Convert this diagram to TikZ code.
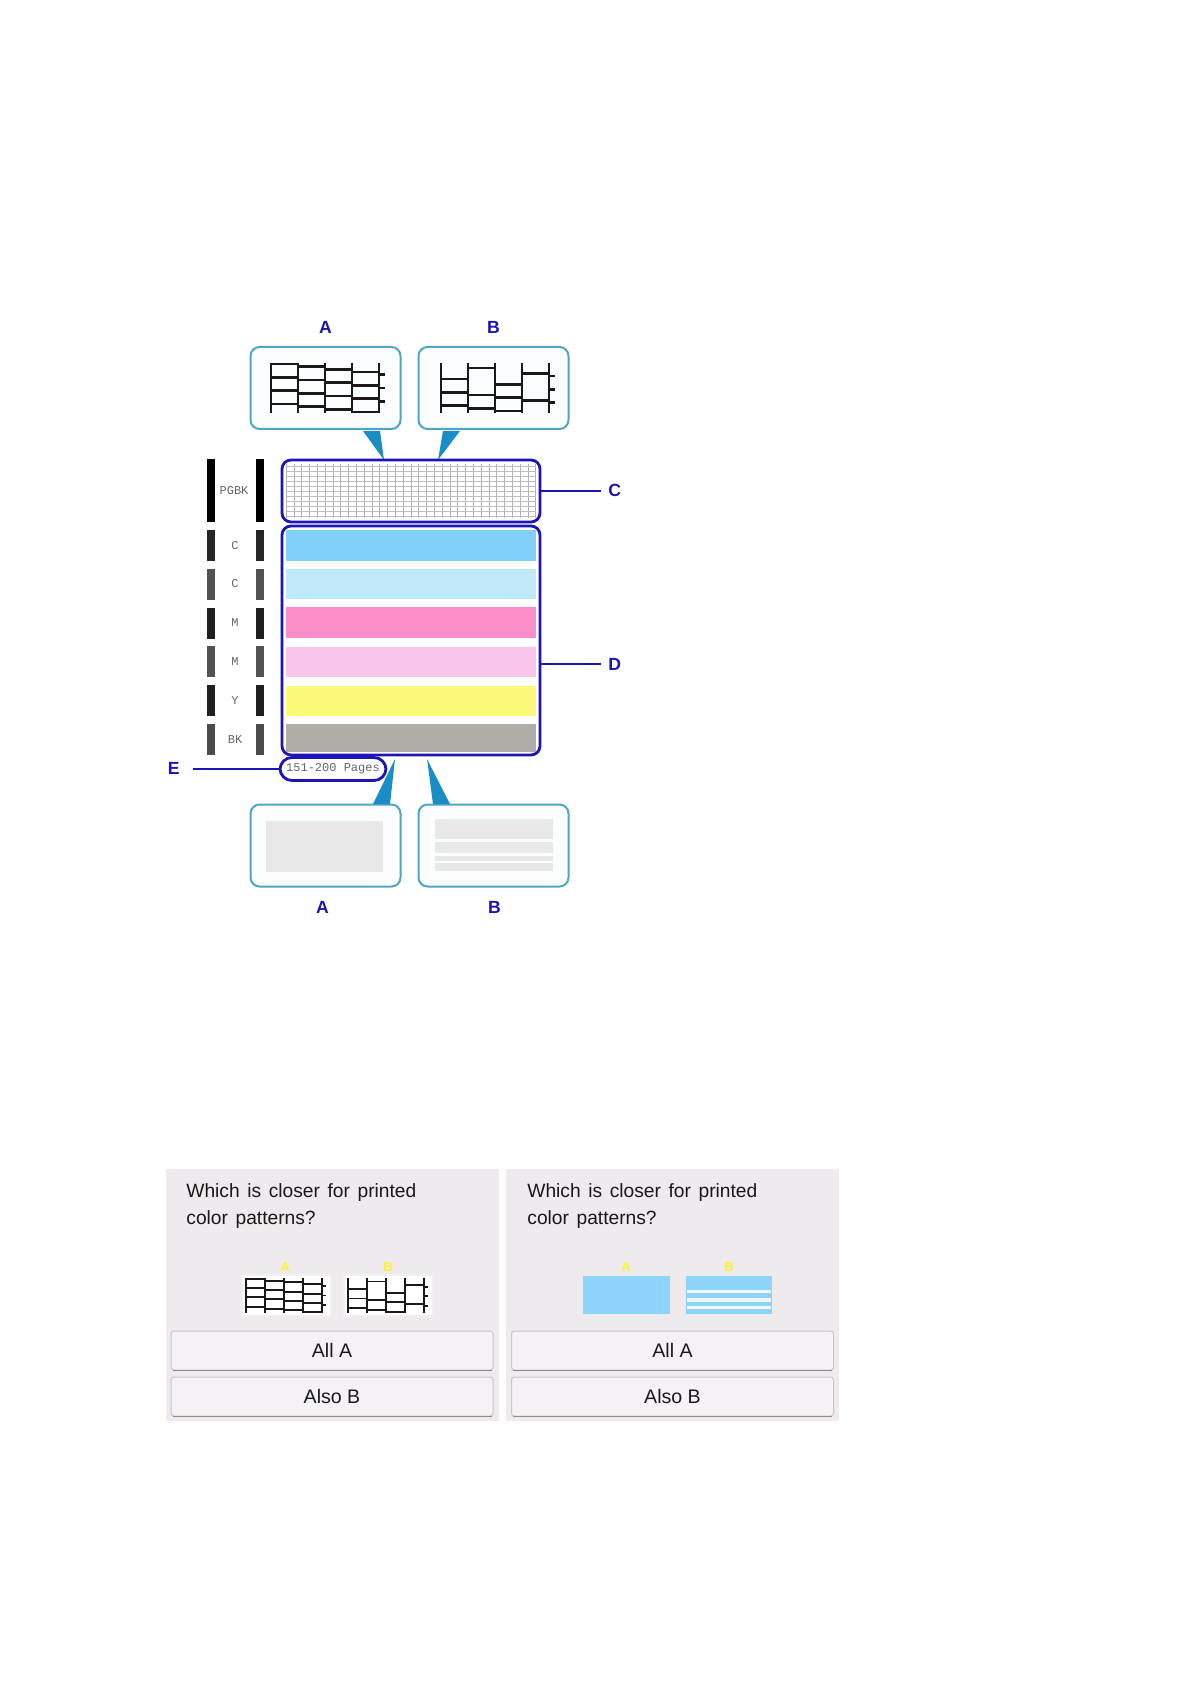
\documentclass[tikz,border=0pt]{standalone}
\usepackage{fontspec}
\setmainfont{Liberation Sans}
\setmonofont{Liberation Mono}
\usetikzlibrary{positioning, calc}
\definecolor{leadblue}{HTML}{1C14B4}
\definecolor{callrim}{HTML}{52A4C4}
\definecolor{callfill}{HTML}{FBFEFF}
\definecolor{tipblue}{HTML}{1A8CC6}
\definecolor{panelbg}{HTML}{EEEAEE}
\definecolor{btnbg}{HTML}{F5F2F7}
\definecolor{thumbblue}{HTML}{8CD4FA}
\newcommand{\wsp}{\spaceskip 3.8pt\relax}
\tikzset{
  callout/.style = {draw=callrim, fill=callfill, rounded corners=4.5pt, line width=1pt,
                    minimum width=75pt, minimum height=41pt, inner sep=0pt},
  tip/.style     = {fill=tipblue},
  zone/.style    = {draw=leadblue, rounded corners=4.5pt, line width=1.4pt, inner sep=0pt},
  lead/.style    = {draw=leadblue, line width=1.2pt},
  letter/.style  = {font=\fontsize{8.8}{10}\selectfont\bfseries, text=leadblue, inner sep=0pt},
  ink/.style     = {font=\ttfamily\fontsize{6}{7}\selectfont, text=black!60, inner sep=0pt},
  stripe/.style  = {minimum width=125pt, minimum height=#1, inner sep=0pt},
  bar/.style     = {minimum width=3.6pt, minimum height=15.5pt, inner sep=0pt},
  swatch/.style  = {fill=black!9, inner sep=0pt},
  panel/.style   = {fill=panelbg, minimum width=166.5pt, minimum height=126pt, inner sep=0pt},
  ask/.style     = {font=\fontsize{9.6}{13.5}\selectfont, text=black!90,
                    align=left, anchor=north west, inner sep=0pt},
  btn/.style     = {draw=black!22, fill=btnbg, rounded corners=1.5pt, line width=0.5pt,
                    minimum width=161pt, minimum height=19.5pt, inner sep=0pt,
                    font=\fontsize{9.8}{12}\selectfont, text=black!90},
  btnedge/.style = {draw=black!45, line width=0.9pt},
  thumb/.style   = {draw=black!6, fill=white, line width=0.7pt, minimum width=44.5pt,
                    minimum height=20.5pt, inner sep=0pt},
  tiny/.style    = {font=\fontsize{6.5}{8}\selectfont\bfseries, text=yellow!85!white, inner sep=0pt},
  patline/.style = {draw=black!90, line width=1.3pt},
  patthin/.style = {patline/.style={draw=black!90, line width=0.95pt}},
  pics/patA/.style = {code={
    \foreach \x in {0,27,54,81,108} \draw[patline] (\x,0) -- (\x,50);
    \foreach \x/\d in {0/1,27/3.7,54/6.3,81/9}
      \foreach \y in {0,13.3,26.7,40} \draw[patline] (\x,\y+\d) -- (\x+27,\y+\d);
    \foreach \y in {11.7,25,38.3} \draw[patline] (108,\y) -- (114,\y);
  }},
  pics/patB/.style = {code={
    \foreach \x in {0,27,54,81,108} \draw[patline] (\x,0) -- (\x,50);
    \foreach \x/\y in {0/16,0/29.3,0/42.7,27/5,27/32,27/45.3,54/21.3,54/34.7,54/48,81/10.3,81/37.3}
      \draw[patline] (\x,\y) -- (\x+27,\y);
    \foreach \y in {13,26.3,39.7} \draw[patline] (108,\y) -- (114,\y);
  }},
}

\begin{document}
\begin{tikzpicture}[x=0.5pt, y=-0.5pt]
\useasboundingbox (0,0) rectangle (1191,1684);

% top callouts
\node[callout] (callA) at (325.5,388) {};
\node[callout] (callB) at (493.5,388) {};
\node[letter, above=6pt of callA] (labA) {A};
\node[letter, above=6pt of callB] (labB) {B};
\pic at (271,363) {patA};
\pic at (441,363) {patB};
\fill[tip] (363,431) -- (380,431) -- (384,460) -- cycle;
\fill[tip] (443,431) -- (460,431) -- (438,460) -- cycle;

% nozzle grid
\node[zone, minimum width=129pt, minimum height=31pt] (boxC) at (411,491) {};
\foreach \x in {0,...,32} \draw[black!30, line width=0.3pt] (286+\x*7.8,464) -- (286+\x*7.8,518);
\foreach \y in {0,...,10} \draw[black!26, line width=0.3pt] (286,466+\y*5) -- (536,466+\y*5);
\node[letter, anchor=west] (labC) at (608,490.5) {C};
\draw[lead] (boxC.east) -- (601,491);

% colour stripes
\node[stripe=15.5pt, fill={rgb,255:red,130;green,207;blue,250}] (sC1) at (411,545.5) {};
\node[stripe=15pt,   fill={rgb,255:red,190;green,234;blue,250}] (sC2) at (411,584) {};
\node[stripe=15.5pt, fill={rgb,255:red,250;green,140;blue,200}] (sM1) at (411,622.5) {};
\node[stripe=15pt,   fill={rgb,255:red,252;green,198;blue,234}] (sM2) at (411,662) {};
\node[stripe=15pt,   fill={rgb,255:red,254;green,248;blue,120}] (sY) at (411,701) {};
\node[stripe=14pt,   fill={rgb,255:red,176;green,172;blue,168}] (sK) at (411,738) {};
\node[zone, minimum width=129pt, minimum height=114.5pt] (boxD) at (411,640.5) {};
\node[letter, anchor=west] (labD) at (608,664) {D};
\draw[lead] (boxD.east |- labD) -- (601,664);

% side bars and ink names
\node[bar, minimum height=31.5pt, fill=black] (pgL) at (211,490.5) {};
\node[bar, minimum height=31.5pt, fill=black] (pgR) at (260,490.5) {};
\node[ink] (pgN) at (234,491) {PGBK};
\foreach \y/\g/\t in {545.5/85/C,584/68/C,623/88/M,661.5/68/M,700.5/88/Y,739.5/70/BK} {
  \node[bar, fill=black!\g] at (211,\y) {};
  \node[bar, fill=black!\g] at (260,\y) {};
  \node[ink] at (235,\y) {\t};
}

% page count
\node[zone, rounded corners=6pt, minimum width=53pt, minimum height=11.5pt] (pill) at (333,769) {};
\node[ink] (pages) at (pill) {151-200 Pages};
\node[letter, anchor=east] (labE) at (180,768) {E};
\draw[lead] (pill.west) -- (193,769);

% bottom callouts
\node[callout] (callC) at (325.5,845.5) {};
\node[callout] (callD) at (493.5,845.5) {};
\node[letter, below=6.5pt of callC, xshift=-1.5pt] (labA2) {A};
\node[letter, below=6.5pt of callD, xshift=0.5pt] (labB2) {B};
\fill[tip] (373,804) -- (390,804) -- (395,759) -- cycle;
\fill[tip] (433,804) -- (450,804) -- (427,759) -- cycle;
\fill[swatch] (266,821) rectangle (383,872);
\fill[swatch] (435,819) rectangle (553,839);
\fill[swatch] (435,842) rectangle (553,853);
\fill[swatch] (435,856) rectangle (553,861);
\fill[swatch] (435,863) rectangle (553,871);

% left screen
\node[panel] (scrL) at (332.5,1295) {};
\node[ask] (askL) at (186,1183) {\wsp Which is closer for printed\\\wsp color patterns?};
\node[thumb] (thL1) at (286.5,1295.5) {};
\node[thumb] (thL2) at (388.5,1295.5) {};
\pic[scale=0.7, patthin] at (246,1278) {patA};
\pic[scale=0.7, patthin] at (348,1278) {patB};
\node[tiny] (tyL1) at (285,1267) {A};
\node[tiny] (tyL2) at (388,1267) {B};
\node[btn] (allL) at (332,1350.5) {All A};
\node[btn] (alsoL) at (332,1396.5) {Also B};

% right screen
\node[panel] (scrR) at (672.5,1295) {};
\node[ask] (askR) at (527,1183) {\wsp Which is closer for printed\\\wsp color patterns?};
\node[thumb, fill=thumbblue, draw=black!8, line width=1.2pt] (thR1) at (626.5,1295) {};
\node[thumb, fill=thumbblue, draw=black!8, line width=1.2pt] (thR2) at (729,1295) {};
\foreach \y/\h in {1292/2.5,1300.5/3,1308/2.5} \fill[white, opacity=.85] (687,\y-\h) rectangle (771,\y+\h-2);
\node[tiny] (tyR1) at (626,1267) {A};
\node[tiny] (tyR2) at (729,1267) {B};
\node[btn] (allR) at (672.5,1350.5) {All A};
\node[btn] (alsoR) at (672.5,1396.5) {Also B};
\foreach \n in {allL,alsoL,allR,alsoR}
  \draw[btnedge] ([xshift=1pt]\n.south west) -- ([xshift=-1pt]\n.south east);
\end{tikzpicture}
\end{document}
